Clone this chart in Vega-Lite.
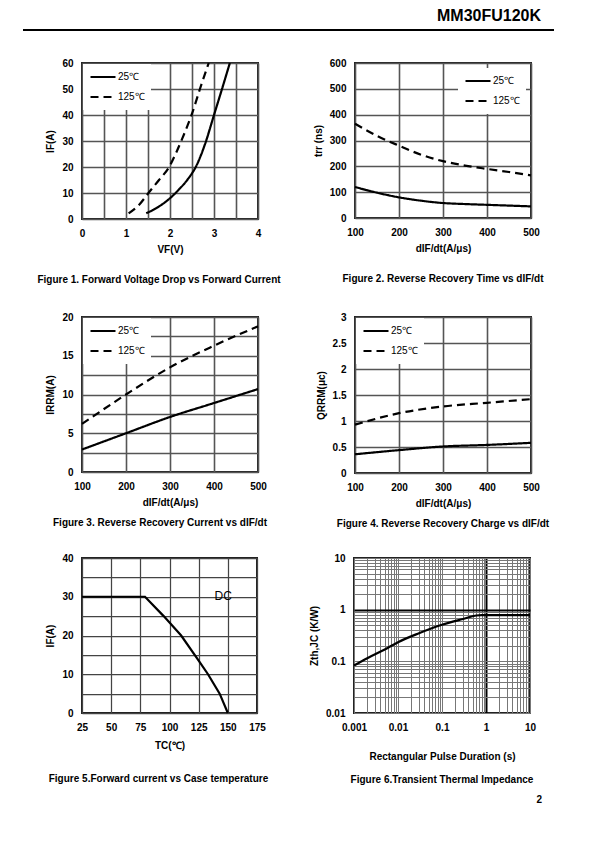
{
  "$schema": "https://vega.github.io/schema/vega-lite/v6.json",
  "padding": {"left": 22, "top": 8, "right": 5, "bottom": 5},
  "spacing": 26,
  "resolve": {"scale": {"strokeDash": "independent"}, "legend": {"strokeDash": "independent"}},
  "config": {
    "font": "Liberation Sans",
    "view": {"stroke": "#222", "strokeWidth": 2},
    "axis": {"ticks": false, "domain": false, "grid": true, "gridColor": "#444", "gridWidth": 1.25, "gridOpacity": 1, "labelFont": "Liberation Sans", "labelFontSize": 10, "labelFontWeight": "bold", "labelColor": "#000", "labelPadding": 9, "labelFlush": false, "labelOverlap": false, "titleFont": "Liberation Sans", "titleFontSize": 10, "titleFontWeight": "bold", "titleColor": "#000", "titlePadding": 6},
    "axisY": {"titlePadding": 6},
    "legend": {"symbolType": "stroke", "symbolSize": 625, "symbolStrokeWidth": 2, "symbolStrokeColor": "#000", "labelFont": "Liberation Sans", "labelFontSize": 10, "labelFontWeight": "normal", "labelColor": "#000", "fillColor": "white", "padding": 6, "offset": 1, "rowPadding": 6, "clipHeight": 14, "labelOffset": 1},
    "title": {"orient": "bottom", "fontSize": 10, "fontWeight": "bold", "color": "#000", "offset": 21, "anchor": "middle", "frame": "group", "font": "Liberation Sans"},
    "line": {"color": "#000", "strokeWidth": 2.2}
  },
  "vconcat": [
    {
      "width": 450, "height": 20,
      "view": {"stroke": null},
      "data": {"values": [{"x0": 0, "x1": 1, "y": 0, "ty": 0.7, "label": "MM30FU120K"}]},
      "layer": [
        {"mark": {"type": "rule", "strokeWidth": 2, "color": "#000"},
         "encoding": {"x": {"field": "x0", "type": "quantitative", "scale": {"domain": [0.11111111, 0.95856874], "nice": false, "zero": false}, "axis": null}, "x2": {"field": "x1"}, "y": {"field": "y", "type": "quantitative", "scale": {"domain": [0, 1], "nice": false}, "axis": null}}},
        {"mark": {"type": "text", "align": "right", "baseline": "middle", "fontSize": 16, "fontWeight": "bold", "dx": -13, "color": "#000"},
         "encoding": {"x": {"field": "x1", "type": "quantitative"}, "y": {"field": "ty", "type": "quantitative"}, "text": {"field": "label"}}}
      ]
    },
    {
      "spacing": 25,
      "resolve": {"scale": {"strokeDash": "independent"}, "legend": {"strokeDash": "independent"}},
      "vconcat": [
        {
          "bounds": "flush", "spacing": 97,
          "resolve": {"scale": {"strokeDash": "independent"}, "legend": {"strokeDash": "independent"}},
          "hconcat": [
            {
              "width": 176, "height": 156,
              "title": {"text": "Figure 1. Forward Voltage Drop vs Forward Current", "dx": -11},
              "data": {"values": [
                {"s": "25℃", "v": 1.46, "i": 2.2}, {"s": "25℃", "v": 1.7, "i": 4.3}, {"s": "25℃", "v": 2.0, "i": 8}, {"s": "25℃", "v": 2.2, "i": 11.3}, {"s": "25℃", "v": 2.4, "i": 15.2}, {"s": "25℃", "v": 2.6, "i": 20.5}, {"s": "25℃", "v": 2.8, "i": 29}, {"s": "25℃", "v": 3.0, "i": 40}, {"s": "25℃", "v": 3.2, "i": 51}, {"s": "25℃", "v": 3.36, "i": 60},
                {"s": "125℃", "v": 1.06, "i": 2.2}, {"s": "125℃", "v": 1.3, "i": 5.5}, {"s": "125℃", "v": 1.51, "i": 10}, {"s": "125℃", "v": 1.75, "i": 15}, {"s": "125℃", "v": 1.98, "i": 20}, {"s": "125℃", "v": 2.14, "i": 25.5}, {"s": "125℃", "v": 2.28, "i": 31}, {"s": "125℃", "v": 2.4, "i": 36}, {"s": "125℃", "v": 2.5, "i": 40.5}, {"s": "125℃", "v": 2.68, "i": 50}, {"s": "125℃", "v": 2.88, "i": 60}
              ]},
              "mark": {"type": "line", "interpolate": "monotone"},
              "encoding": {
                "x": {"field": "v", "type": "quantitative", "scale": {"domain": [0, 4], "nice": false}, "axis": {"title": "VF(V)", "grid": true, "gridColor": "#555", "gridWidth": 1.6, "values": [0, 0.5, 1, 1.5, 2, 2.5, 3, 3.5, 4], "format": "~g", "labelExpr": "datum.value % 1 === 0 ? datum.label : ''"}},
                "y": {"field": "i", "type": "quantitative", "scale": {"domain": [0, 60], "nice": false}, "axis": {"title": "IF(A)", "grid": true, "gridColor": "#555", "gridWidth": 1.6, "values": [0, 10, 20, 30, 40, 50, 60]}},
                "strokeDash": {"field": "s", "type": "nominal", "scale": {"domain": ["25℃", "125℃"], "range": [[1, 0], [8, 5]]}, "legend": {"title": null, "orient": "top-left"}}
              }
            },
            {
              "width": 176, "height": 155,
              "title": {"text": "Figure 2.  Reverse Recovery Time vs dIF/dt"},
              "data": {"values": [
                {"s": "25℃", "d": 100, "t": 120}, {"s": "25℃", "d": 150, "t": 98}, {"s": "25℃", "d": 200, "t": 80}, {"s": "25℃", "d": 250, "t": 67}, {"s": "25℃", "d": 300, "t": 58}, {"s": "25℃", "d": 350, "t": 54}, {"s": "25℃", "d": 400, "t": 51}, {"s": "25℃", "d": 450, "t": 48}, {"s": "25℃", "d": 500, "t": 45},
                {"s": "125℃", "d": 100, "t": 365}, {"s": "125℃", "d": 150, "t": 318}, {"s": "125℃", "d": 200, "t": 280}, {"s": "125℃", "d": 250, "t": 245}, {"s": "125℃", "d": 300, "t": 220}, {"s": "125℃", "d": 350, "t": 203}, {"s": "125℃", "d": 400, "t": 190}, {"s": "125℃", "d": 450, "t": 178}, {"s": "125℃", "d": 500, "t": 165}
              ]},
              "mark": {"type": "line", "interpolate": "monotone"},
              "encoding": {
                "x": {"field": "d", "type": "quantitative", "scale": {"domain": [100, 500], "nice": false, "zero": false}, "axis": {"title": "dIF/dt(A/μs)", "grid": true, "gridColor": "#555", "gridWidth": 1.6, "values": [100, 200, 300, 400, 500]}},
                "y": {"field": "t", "type": "quantitative", "scale": {"domain": [0, 600], "nice": false}, "axis": {"title": "trr (ns)", "grid": true, "gridColor": "#555", "gridWidth": 1.6, "values": [0, 100, 200, 300, 400, 500, 600]}},
                "strokeDash": {"field": "s", "type": "nominal", "scale": {"domain": ["25℃", "125℃"], "range": [[1, 0], [8, 5]]}, "legend": {"title": null, "orient": "top-right", "offset": 5}}
              }
            }
          ]
        },
        {
          "spacing": 22,
          "resolve": {"scale": {"strokeDash": "independent"}, "legend": {"strokeDash": "independent"}},
          "vconcat": [
            {
              "bounds": "flush", "spacing": 97,
              "resolve": {"scale": {"strokeDash": "independent"}, "legend": {"strokeDash": "independent"}},
              "hconcat": [
                {
                  "width": 176, "height": 155,
                  "title": {"text": "Figure 3. Reverse Recovery Current vs dIF/dt", "dx": -10, "offset": 11},
                  "data": {"values": [
                    {"s": "25℃", "d": 100, "r": 2.9}, {"s": "25℃", "d": 200, "r": 5.0}, {"s": "25℃", "d": 300, "r": 7.1}, {"s": "25℃", "d": 400, "r": 8.9}, {"s": "25℃", "d": 500, "r": 10.7},
                    {"s": "125℃", "d": 100, "r": 6.2}, {"s": "125℃", "d": 200, "r": 10.0}, {"s": "125℃", "d": 300, "r": 13.5}, {"s": "125℃", "d": 400, "r": 16.3}, {"s": "125℃", "d": 500, "r": 18.8}
                  ]},
                  "mark": {"type": "line", "interpolate": "monotone"},
                  "encoding": {
                    "x": {"field": "d", "type": "quantitative", "scale": {"domain": [100, 500], "nice": false, "zero": false}, "axis": {"title": "dIF/dt(A/μs)", "grid": true, "gridColor": "#555", "gridWidth": 1.6, "values": [100, 200, 300, 400, 500]}},
                    "y": {"field": "r", "type": "quantitative", "scale": {"domain": [0, 20], "nice": false}, "axis": {"title": "IRRM(A)", "grid": true, "gridColor": "#555", "gridWidth": 1.6, "values": [0, 2.5, 5, 7.5, 10, 12.5, 15, 17.5, 20], "format": "~g", "labelExpr": "datum.value % 5 === 0 ? datum.label : ''"}},
                    "strokeDash": {"field": "s", "type": "nominal", "scale": {"domain": ["25℃", "125℃"], "range": [[1, 0], [8, 5]]}, "legend": {"title": null, "orient": "top-left"}}
                  }
                },
                {
                  "width": 176, "height": 156,
                  "title": {"text": "Figure 4. Reverse Recovery Charge vs dIF/dt", "offset": 11},
                  "data": {"values": [
                    {"s": "25℃", "d": 100, "q": 0.36}, {"s": "25℃", "d": 200, "q": 0.44}, {"s": "25℃", "d": 300, "q": 0.51}, {"s": "25℃", "d": 400, "q": 0.54}, {"s": "25℃", "d": 500, "q": 0.58},
                    {"s": "125℃", "d": 100, "q": 0.93}, {"s": "125℃", "d": 200, "q": 1.15}, {"s": "125℃", "d": 300, "q": 1.28}, {"s": "125℃", "d": 400, "q": 1.35}, {"s": "125℃", "d": 500, "q": 1.42}
                  ]},
                  "mark": {"type": "line", "interpolate": "monotone"},
                  "encoding": {
                    "x": {"field": "d", "type": "quantitative", "scale": {"domain": [100, 500], "nice": false, "zero": false}, "axis": {"title": "dIF/dt(A/μs)", "grid": true, "gridColor": "#555", "gridWidth": 1.6, "values": [100, 200, 300, 400, 500]}},
                    "y": {"field": "q", "type": "quantitative", "scale": {"domain": [0, 3], "nice": false}, "axis": {"title": "QRRM(μc)", "grid": true, "gridColor": "#555", "gridWidth": 1.6, "values": [0, 0.5, 1, 1.5, 2, 2.5, 3], "format": "~g"}},
                    "strokeDash": {"field": "s", "type": "nominal", "scale": {"domain": ["25℃", "125℃"], "range": [[1, 0], [8, 5]]}, "legend": {"title": null, "orient": "top-left"}}
                  }
                }
              ]
            },
            {
              "spacing": 8,
              "vconcat": [
                {
                  "bounds": "flush", "spacing": 97,
                  "hconcat": [
                    {
                      "width": 175, "height": 155,
                      "title": {"text": "Figure 5.Forward current vs Case temperature", "dx": -11, "offset": 24},
                      "encoding": {
                        "x": {"field": "t", "type": "quantitative", "scale": {"domain": [25, 175], "nice": false, "zero": false}, "axis": {"title": "TC(℃)", "grid": true, "labelOverlap": false, "titlePadding": 8, "values": [25, 50, 75, 100, 125, 150, 175]}},
                        "y": {"field": "i", "type": "quantitative", "scale": {"domain": [0, 40], "nice": false}, "axis": {"title": "IF(A)", "grid": true, "labelOverlap": false, "values": [0, 5, 10, 15, 20, 25, 30, 35, 40], "labelExpr": "datum.value % 10 === 0 ? datum.label : ''"}}
                      },
                      "layer": [
                        {
                          "data": {"values": [
                            {"t": 25, "i": 30}, {"t": 79, "i": 30}, {"t": 95, "i": 25}, {"t": 110, "i": 20}, {"t": 125, "i": 13.5}, {"t": 133, "i": 10}, {"t": 143, "i": 5}, {"t": 150, "i": 0}
                          ]},
                          "mark": {"type": "line"}
                        },
                        {
                          "data": {"values": [{"t": 146, "i": 30.2, "label": "DC"}]},
                          "mark": {"type": "text", "fontSize": 12, "fontWeight": "normal", "color": "#000", "baseline": "middle", "align": "center"},
                          "encoding": {"text": {"field": "label"}}
                        }
                      ]
                    },
                    {
                      "width": 176, "height": 155,
                      "title": {"text": "Figure 6.Transient Thermal Impedance", "offset": 14},
                      "data": {"values": [
                        {"p": 0.001, "z": 0.083}, {"p": 0.002, "z": 0.115}, {"p": 0.005, "z": 0.17}, {"p": 0.01, "z": 0.235}, {"p": 0.03, "z": 0.35}, {"p": 0.1, "z": 0.51}, {"p": 0.3, "z": 0.66}, {"p": 0.6, "z": 0.77}, {"p": 0.8, "z": 0.785}, {"p": 1, "z": 0.785}, {"p": 10, "z": 0.785}
                      ]},
                      "mark": {"type": "line", "interpolate": "monotone"},
                      "encoding": {
                        "x": {"field": "p", "type": "quantitative", "scale": {"type": "log", "domain": [0.001, 10], "nice": false}, "axis": {"title": "Rectangular Pulse Duration (s)", "titlePadding": 19, "values": [0.001, 0.002, 0.003, 0.004, 0.005, 0.006, 0.007, 0.008, 0.009, 0.01, 0.02, 0.03, 0.04, 0.05, 0.06, 0.07, 0.08, 0.09, 0.1, 0.2, 0.3, 0.4, 0.5, 0.6, 0.7, 0.8, 0.9, 1, 2, 3, 4, 5, 6, 7, 8, 9, 10], "format": "~g", "labelExpr": "abs(log(datum.value)/LN10 - round(log(datum.value)/LN10)) < 0.0001 ? datum.label : ''", "gridColor": {"condition": {"test": "datum.value === 1", "value": "#000"}, "value": "#777"}, "gridWidth": {"condition": {"test": "datum.value === 1", "value": 2}, "value": 1}}},
                        "y": {"field": "z", "type": "quantitative", "scale": {"type": "log", "domain": [0.01, 10], "nice": false}, "axis": {"title": "Zth,JC (K/W)", "values": [0.01, 0.02, 0.03, 0.04, 0.05, 0.06, 0.07, 0.08, 0.09, 0.1, 0.2, 0.3, 0.4, 0.5, 0.6, 0.7, 0.8, 0.9, 1, 2, 3, 4, 5, 6, 7, 8, 9, 10], "format": "~g", "labelExpr": "abs(log(datum.value)/LN10 - round(log(datum.value)/LN10)) < 0.0001 ? datum.label : ''", "gridColor": {"condition": {"test": "datum.value === 1", "value": "#000"}, "value": "#777"}, "gridWidth": {"condition": {"test": "datum.value === 1", "value": 2}, "value": 1}}}
                      }
                    }
                  ]
                },
                {
                  "width": 450, "height": 12,
                  "view": {"stroke": null},
                  "data": {"values": [{"x": 1, "y": 0.5, "label": "2"}]},
                  "mark": {"type": "text", "align": "right", "baseline": "middle", "fontWeight": "bold", "fontSize": 10, "dx": 10, "color": "#000"},
                  "encoding": {"x": {"field": "x", "type": "quantitative", "scale": {"domain": [0, 1], "nice": false}, "axis": null}, "y": {"field": "y", "type": "quantitative", "scale": {"domain": [0, 1], "nice": false}, "axis": null}, "text": {"field": "label"}}
                }
              ]
            }
          ]
        }
      ]
    }
  ]
}
